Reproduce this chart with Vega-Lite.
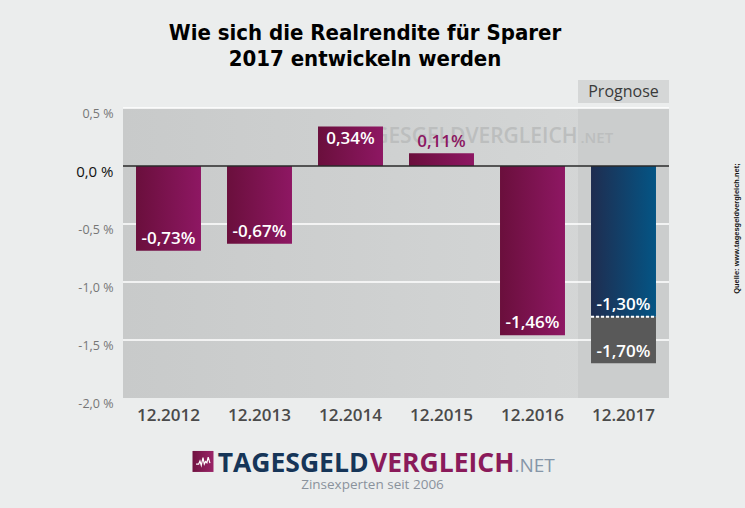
{
  "$schema": "https://vega.github.io/schema/vega-lite/v6.json",
  "width": 546,
  "height": 290,
  "autosize": "none",
  "padding": {"left": 123, "top": 108, "right": 76, "bottom": 110},
  "background": "#ebeded",
  "title": {
    "text": ["Wie sich die Realrendite für Sparer", "2017 entwickeln werden"],
    "font": "'DejaVu Sans Condensed', Roboto, sans-serif",
    "fontWeight": "bold",
    "fontSize": 22,
    "lineHeight": 26,
    "color": "#000000",
    "anchor": "middle",
    "baseline": "bottom",
    "dx": -31,
    "offset": -13
  },
  "config": {
    "view": {
      "stroke": null,
      "fill": {"gradient": "linear", "x1": 0, "x2": 1, "y1": 0, "y2": 0,
        "stops": [{"offset": 0, "color": "#c8caca"}, {"offset": 1, "color": "#d6d8d8"}]}
    },
    "axis": {"title": null, "domain": false, "ticks": false, "grid": false},
    "axisX": {"labelFont": "Open Sans", "labelFontWeight": 600, "labelFontSize": 17, "labelColor": "#4a4a4a", "labelPadding": 9, "labelAngle": 0},
    "axisY": {"labelFont": "Open Sans", "labelPadding": 10, "labelOffset": 5}
  },
  "data": {
    "values": [
      {"jahr": "12.2012", "wert": -0.73, "label": "-0,73%"},
      {"jahr": "12.2013", "wert": -0.67, "label": "-0,67%"},
      {"jahr": "12.2014", "wert": 0.34, "label": "0,34%"},
      {"jahr": "12.2015", "wert": 0.11, "label": "0,11%"},
      {"jahr": "12.2016", "wert": -1.46, "label": "-1,46%"},
      {"jahr": "12.2017", "wert": -1.30, "label": "-1,30%", "wert_max": -1.70, "label_max": "-1,70%"}
    ]
  },
  "layer": [
    {
      "transform": [{"filter": "datum.jahr === '12.2017'"}],
      "mark": {"type": "bar", "color": "#cbcdcd"},
      "encoding": {
        "x": {"field": "jahr", "type": "nominal",
          "scale": {"domain": ["12.2012", "12.2013", "12.2014", "12.2015", "12.2016", "12.2017"], "paddingInner": 0, "paddingOuter": 0}},
        "y": {"datum": 0.5, "type": "quantitative", "scale": {"domain": [-2, 0.5], "nice": false},
          "axis": {"values": [0.5, 0, -0.5, -1, -1.5, -2],
            "labelExpr": "(datum.value < 0 ? '-' : '') + replace(format(abs(datum.value), '.1f'), '.', ',') + ' %'",
            "labelFontSize": {"condition": {"test": "datum.value === 0", "value": 15}, "value": 12.5},
            "labelColor": {"condition": {"test": "datum.value === 0", "value": "#111111"}, "value": "#767676"}}},
        "y2": {"datum": -2}
      }
    },
    {
      "transform": [{"filter": "datum.jahr === '12.2017'"}],
      "mark": {"type": "bar", "color": "#d5d7d7"},
      "encoding": {
        "x": {"field": "jahr", "type": "nominal"},
        "y": {"datum": 0.741, "type": "quantitative"},
        "y2": {"datum": 0.543}
      }
    },
    {
      "transform": [{"filter": "datum.jahr === '12.2017'"}],
      "mark": {"type": "text", "text": "Prognose", "font": "Open Sans", "fontSize": 16, "color": "#3a3a3a", "baseline": "middle"},
      "encoding": {
        "x": {"field": "jahr", "type": "nominal"},
        "y": {"datum": 0.642, "type": "quantitative"}
      }
    },
    {
      "data": {"values": [{"g": 0.5}, {"g": -0.5}, {"g": -1.0}, {"g": -1.5}]},
      "mark": {"type": "rule", "color": "#ffffff", "strokeWidth": 1.5},
      "encoding": {"y": {"field": "g", "type": "quantitative"}}
    },
    {
      "data": {"values": [{}]},
      "mark": {"type": "text", "text": "TAGESGELDVERGLEICH", "font": "Open Sans", "fontWeight": 600, "fontSize": 21, "color": "#bcbebe", "align": "right", "baseline": "alphabetic", "dx": 45},
      "encoding": {
        "x": {"datum": "12.2016", "type": "nominal"},
        "y": {"datum": 0.198, "type": "quantitative"}
      }
    },
    {
      "data": {"values": [{}]},
      "mark": {"type": "text", "text": ".NET", "font": "Open Sans", "fontWeight": 600, "fontSize": 15, "color": "#bcbebe", "align": "left", "baseline": "alphabetic", "dx": 48},
      "encoding": {
        "x": {"datum": "12.2016", "type": "nominal"},
        "y": {"datum": 0.198, "type": "quantitative"}
      }
    },
    {
      "transform": [{"filter": "datum.jahr !== '12.2017'"}],
      "mark": {"type": "bar", "width": {"band": 0.714},
        "color": {"gradient": "linear", "x1": 0, "x2": 1, "y1": 0, "y2": 0,
          "stops": [{"offset": 0, "color": "#6a0f3c"}, {"offset": 1, "color": "#8e1763"}]}},
      "encoding": {
        "x": {"field": "jahr", "type": "nominal"},
        "y": {"field": "wert", "type": "quantitative"}
      }
    },
    {
      "transform": [{"filter": "datum.jahr === '12.2017'"}],
      "mark": {"type": "bar", "width": {"band": 0.714},
        "color": {"gradient": "linear", "x1": 0, "x2": 1, "y1": 0, "y2": 0,
          "stops": [{"offset": 0, "color": "#1f2d50"}, {"offset": 1, "color": "#045585"}]}},
      "encoding": {
        "x": {"field": "jahr", "type": "nominal"},
        "y": {"field": "wert", "type": "quantitative"}
      }
    },
    {
      "transform": [{"filter": "datum.jahr === '12.2017'"}],
      "mark": {"type": "bar", "width": {"band": 0.714}, "color": "#595959"},
      "encoding": {
        "x": {"field": "jahr", "type": "nominal"},
        "y": {"field": "wert", "type": "quantitative"},
        "y2": {"field": "wert_max"}
      }
    },
    {
      "transform": [{"filter": "datum.jahr === '12.2017'"}],
      "mark": {"type": "rule", "color": "#ffffff", "strokeWidth": 2, "strokeDash": [3, 2], "xOffset": -32.5, "x2Offset": 32.5},
      "encoding": {
        "x": {"field": "jahr", "type": "nominal"},
        "x2": {"field": "jahr"},
        "y": {"field": "wert", "type": "quantitative"}
      }
    },
    {
      "data": {"values": [{}]},
      "mark": {"type": "rule", "color": "#2a2a2a", "strokeWidth": 1.5},
      "encoding": {"y": {"datum": 0, "type": "quantitative"}}
    },
    {
      "transform": [{"filter": "datum.wert < 0"}],
      "mark": {"type": "text", "font": "Open Sans", "fontWeight": 600, "fontSize": 17, "color": "#ffffff", "baseline": "bottom", "dy": -3},
      "encoding": {
        "x": {"field": "jahr", "type": "nominal"},
        "y": {"field": "wert", "type": "quantitative"},
        "text": {"field": "label"}
      }
    },
    {
      "transform": [{"filter": "datum.jahr === '12.2017'"}],
      "mark": {"type": "text", "font": "Open Sans", "fontWeight": 600, "fontSize": 17, "color": "#ffffff", "baseline": "bottom", "dy": -2},
      "encoding": {
        "x": {"field": "jahr", "type": "nominal"},
        "y": {"field": "wert_max", "type": "quantitative"},
        "text": {"field": "label_max"}
      }
    },
    {
      "transform": [{"filter": "datum.jahr === '12.2014'"}],
      "mark": {"type": "text", "font": "Open Sans", "fontWeight": 600, "fontSize": 17, "color": "#ffffff", "baseline": "top", "dy": 4},
      "encoding": {
        "x": {"field": "jahr", "type": "nominal"},
        "y": {"field": "wert", "type": "quantitative"},
        "text": {"field": "label"}
      }
    },
    {
      "transform": [{"filter": "datum.jahr === '12.2015'"}],
      "mark": {"type": "text", "font": "Open Sans", "fontWeight": 600, "fontSize": 17, "color": "#8c1761", "baseline": "alphabetic", "dy": -6},
      "encoding": {
        "x": {"field": "jahr", "type": "nominal"},
        "y": {"field": "wert", "type": "quantitative"},
        "text": {"field": "label"}
      }
    },
    {
      "data": {"values": [{}]},
      "mark": {"type": "point", "shape": "square", "size": 441, "filled": true, "opacity": 1,
        "color": {"gradient": "linear", "x1": 0, "x2": 1, "y1": 0, "y2": 0,
          "stops": [{"offset": 0, "color": "#701240"}, {"offset": 1, "color": "#9a2468"}]}, "xOffset": 34.5},
      "encoding": {
        "x": {"datum": "12.2012", "type": "nominal"},
        "y": {"datum": -2.547, "type": "quantitative"}
      }
    },
    {
      "data": {"values": [{}]},
      "mark": {"type": "point", "shape": "M-0.8,0.3L-0.5,0.3L-0.35,-0.05L-0.2,0.45L0,-0.45L0.15,0.3L0.3,0L0.45,0.15L0.6,-0.5L0.8,0.2", "size": 300, "filled": false, "opacity": 1, "stroke": "#ffffff", "strokeWidth": 1.2, "xOffset": 34.5},
      "encoding": {
        "x": {"datum": "12.2012", "type": "nominal"},
        "y": {"datum": -2.547, "type": "quantitative"}
      }
    },
    {
      "data": {"values": [{}]},
      "mark": {"type": "text", "text": "TAGESGELD", "font": "Open Sans", "fontWeight": "bold", "fontSize": 26.5, "color": "#163558", "align": "right", "baseline": "alphabetic", "dx": 18},
      "encoding": {
        "x": {"datum": "12.2014", "type": "nominal"},
        "y": {"datum": -2.638, "type": "quantitative"}
      }
    },
    {
      "data": {"values": [{}]},
      "mark": {"type": "text", "text": "VERGLEICH", "font": "Open Sans", "fontWeight": "bold", "fontSize": 26.5, "color": "#8a1a5a", "align": "left", "baseline": "alphabetic", "dx": 19.5},
      "encoding": {
        "x": {"datum": "12.2014", "type": "nominal"},
        "y": {"datum": -2.638, "type": "quantitative"}
      }
    },
    {
      "data": {"values": [{}]},
      "mark": {"type": "text", "text": ".NET", "font": "Open Sans", "fontSize": 19, "color": "#8596a8", "align": "left", "baseline": "alphabetic", "dx": 73},
      "encoding": {
        "x": {"datum": "12.2015", "type": "nominal"},
        "y": {"datum": -2.638, "type": "quantitative"}
      }
    },
    {
      "data": {"values": [{}]},
      "mark": {"type": "text", "text": "Zinsexperten seit 2006", "font": "Open Sans", "fontSize": 13.5, "color": "#8a929c", "align": "center", "baseline": "alphabetic", "dx": 22},
      "encoding": {
        "x": {"datum": "12.2014", "type": "nominal"},
        "y": {"datum": -2.784, "type": "quantitative"}
      }
    },
    {
      "data": {"values": [{}]},
      "mark": {"type": "text", "text": "Quelle: www.tagesgeldvergleich.net;", "font": "Liberation Sans", "fontWeight": "bold", "fontSize": 7.5, "color": "#111111", "angle": 270, "align": "center", "baseline": "middle", "dy": 113},
      "encoding": {
        "x": {"datum": "12.2017", "type": "nominal"},
        "y": {"datum": -0.539, "type": "quantitative"}
      }
    }
  ]
}
